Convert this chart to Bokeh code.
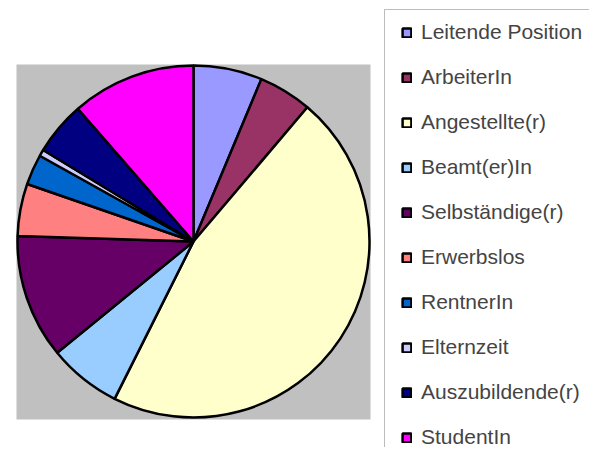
import numpy as np
from bokeh.plotting import figure
from bokeh.models import Range1d, Legend, LegendItem, BoxAnnotation
from bokeh.embed import file_html
from bokeh.resources import INLINE

categories = ["Leitende Position", "ArbeiterIn", "Angestellte(r)", "Beamt(er)In",
              "Selbständige(r)", "Erwerbslos", "RentnerIn", "Elternzeit",
              "Auszubildende(r)", "StudentIn"]
values = [6.3, 4.9, 46.2, 6.7, 11.4, 4.8, 2.8, 0.6, 4.9, 11.4]
colors = ["#9999FF", "#993366", "#FFFFCC", "#99CCFF", "#660066",
          "#FF8080", "#0066CC", "#CCCCFF", "#000080", "#FF00FF"]

W, H = 589, 447
p = figure(width=W, height=H, x_range=Range1d(0, W), y_range=Range1d(0, H),
           output_backend="svg", toolbar_location=None, min_border=0)
p.axis.visible = False
p.grid.visible = False
p.outline_line_color = None
p.background_fill_color = "white"

# gray plot area
p.add_layout(BoxAnnotation(left=16, right=370, bottom=H - 419, top=H - 64,
                           fill_color="#C0C0C0", fill_alpha=1, line_color=None, level="underlay"))

v = np.array(values, dtype=float)
frac = v / v.sum()
ends = np.pi / 2 - 2 * np.pi * np.cumsum(frac)
starts = np.concatenate([[np.pi / 2], ends[:-1]])

cx, cy, r = 193, H - 241, 176
items = []
for i in range(len(values)):
    rr = p.wedge(x=cx, y=cy, radius=r, start_angle=starts[i], end_angle=ends[i],
                 direction="clock", fill_color=colors[i], line_color="black", line_width=2.5)
    items.append(LegendItem(label=categories[i], renderers=[rr]))

# legend frame
p.add_layout(BoxAnnotation(left=384, right=700, bottom=-60, top=H - 9,
                           fill_color="white", fill_alpha=1, line_color="#222222",
                           line_width=1, level="overlay"))

legend = Legend(items=items, location=(401, -2), padding=0,
                glyph_width=11, glyph_height=11, label_height=20, spacing=21,
                label_standoff=9, label_text_font="Liberation Sans",
                label_text_font_size="21px", border_line_alpha=0,
                background_fill_alpha=0, margin=0)
p.add_layout(legend)

open("out.html", "w").write(file_html(p, INLINE))
